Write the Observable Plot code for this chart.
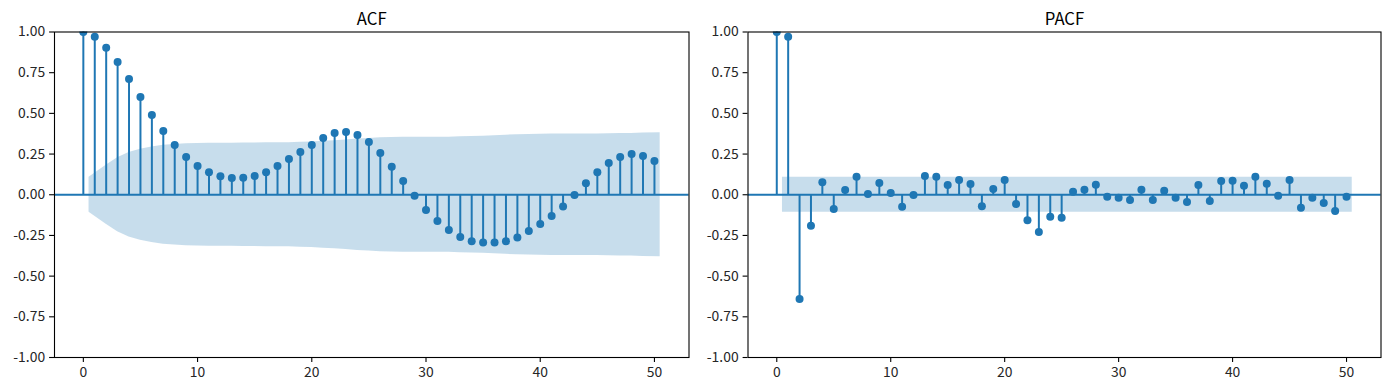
<!DOCTYPE html>
<html>
<head>
<meta charset="utf-8">
<script src="https://cdn.jsdelivr.net/npm/d3@7"></script>
<script src="https://cdn.jsdelivr.net/npm/@observablehq/plot@0.6"></script>
<style>
  html, body { margin: 0; padding: 0; background: white; }
  #wrap { display: flex; flex-direction: row; width: 1389px; height: 390px; }
  #wrap svg { display: block; }
</style>
</head>
<body>
<div id="wrap"></div>
<script>
// ---- data ----
const lags = d3.range(0, 51);
const xTicks = [0, 10, 20, 30, 40, 50];
const yTicks = [-1, -0.75, -0.5, -0.25, 0, 0.25, 0.5, 0.75, 1];
const titles = ["ACF", "PACF"];

const acfValues = [
  1.000, 0.971, 0.903, 0.815, 0.711, 0.600, 0.490, 0.391, 0.305, 0.232,
  0.176, 0.139, 0.113, 0.103, 0.105, 0.115, 0.139, 0.176, 0.219, 0.262,
  0.305, 0.348, 0.379, 0.385, 0.367, 0.324, 0.256, 0.172, 0.084, -0.006,
  -0.094, -0.162, -0.217, -0.260, -0.285, -0.293, -0.293, -0.285, -0.262, -0.223,
  -0.180, -0.131, -0.072, -0.002, 0.070, 0.139, 0.195, 0.232, 0.250, 0.238,
  0.207
];
// confidence half-widths for lags 1..50
const acfConf = [
  0.107, 0.182, 0.228, 0.259, 0.280, 0.294, 0.304, 0.309, 0.313, 0.315,
  0.316, 0.317, 0.317, 0.318, 0.318, 0.319, 0.319, 0.320, 0.322, 0.324,
  0.328, 0.332, 0.337, 0.342, 0.346, 0.350, 0.352, 0.353, 0.354, 0.354,
  0.353, 0.354, 0.356, 0.358, 0.360, 0.363, 0.366, 0.368, 0.370, 0.372,
  0.373, 0.374, 0.374, 0.374, 0.374, 0.375, 0.376, 0.377, 0.379, 0.381
];

const pacfValues = [
  1.000, 0.971, -0.641, -0.191, 0.077, -0.088, 0.029, 0.111, 0.004, 0.072,
  0.010, -0.074, -0.002, 0.115, 0.111, 0.060, 0.090, 0.066, -0.070, 0.035,
  0.090, -0.057, -0.156, -0.229, -0.135, -0.141, 0.018, 0.031, 0.061, -0.012,
  -0.018, -0.033, 0.031, -0.033, 0.025, -0.018, -0.045, 0.060, -0.039, 0.084,
  0.086, 0.055, 0.111, 0.068, -0.006, 0.090, -0.080, -0.018, -0.051, -0.100,
  -0.012
];
const pacfConf = lags.slice(1).map(() => 0.107);

// ---- drawing ----
const C0 = "#1f77b4";
const FONT = "'Noto Sans CJK KR', 'Noto Sans', 'DejaVu Sans', sans-serif";

function panel(values, conf, title, opts) {
  const pts = lags.map((l, i) => ({lag: l, v: values[i]}));
  const bandLags = lags.slice(1).map((l, i, a) => i === 0 ? l - 0.5 : (i === a.length - 1 ? l + 0.5 : l));
  const band = bandLags.map((x, i) => ({x, lo: -conf[i], hi: conf[i]}));
  return Plot.plot({
    width: opts.width,
    height: 390,
    marginLeft: opts.marginLeft,
    marginRight: opts.marginRight,
    marginTop: 31.5,
    marginBottom: 33,
    x: {domain: [-2.525, 53.025]},
    y: {domain: [-1, 1]},
    style: {fontFamily: FONT, fontSize: "13.9px", color: "#000", background: "white", overflow: "visible"},
    marks: [
      Plot.ruleX(pts, {x: "lag", y1: d => 0, y2: "v", stroke: C0, strokeWidth: 2}),
      Plot.ruleY([0], {stroke: C0, strokeWidth: 2}),
      Plot.dot(pts, {x: "lag", y: "v", r: 4, fill: C0, stroke: null, clip: true}),
      Plot.areaY(band, {x: "x", y1: "lo", y2: "hi", fill: C0, fillOpacity: 0.25}),
      Plot.frame({stroke: "#000", strokeWidth: 1.1}),
      Plot.axisX({ticks: xTicks, tickSize: 4.9, tickPadding: 4.5, tickFormat: d => String(d), strokeWidth: 1.1, fill: "#262626", label: null}),
      Plot.axisY({ticks: yTicks, tickSize: 4.9, tickPadding: 4.5, tickFormat: d => d.toFixed(2), strokeWidth: 1.1, fill: "#262626", label: null}),
      Plot.text([title], {frameAnchor: "top", dy: -7.5, lineAnchor: "bottom", fontSize: 16.7, fill: "#000", text: d => d})
    ]
  });
}

const wrap = document.getElementById("wrap");
wrap.appendChild(panel(acfValues, acfConf, titles[0], {width: 700, marginLeft: 54, marginRight: 11.5}));
wrap.appendChild(panel(pacfValues, pacfConf, titles[1], {width: 689, marginLeft: 47.5, marginRight: 8.5}));
</script>
</body>
</html>
